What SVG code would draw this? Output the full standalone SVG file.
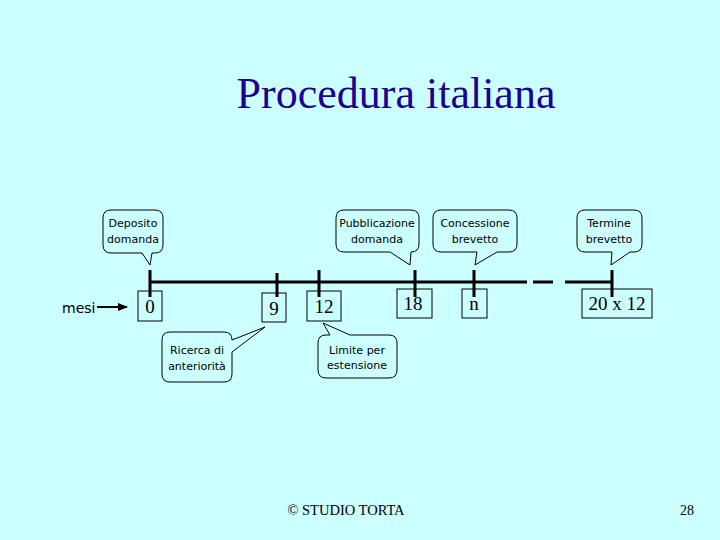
<svg xmlns="http://www.w3.org/2000/svg" width="720" height="540" viewBox="0 0 720 540">
<defs>
<marker id="ah" markerWidth="10" markerHeight="8" refX="9" refY="4" orient="auto" markerUnits="userSpaceOnUse">
<path d="M0,0 L10,4 L0,8 Z" fill="#000"/>
</marker>
<style>
.bg{fill:#ccffff}
.call{fill:#ccffff;stroke:#000;stroke-width:1}
.ct{font-family:"DejaVu Sans","Liberation Sans",sans-serif;font-size:11px;fill:#000;text-anchor:middle}
.num{font-family:"Liberation Serif",serif;font-size:19px;fill:#000;text-anchor:middle}
.box{fill:#ccffff;stroke:#000;stroke-width:1}
.tick{stroke:#000;stroke-width:3}
.tl{stroke:#000;stroke-width:3;fill:none}
</style>
</defs>
<rect class="bg" x="0" y="0" width="720" height="540"/>
<text x="396" y="108" font-family="Liberation Serif,serif" font-size="44" fill="#1e0090" text-anchor="middle">Procedura italiana</text>

<g id="connectors">
<line class="tl" x1="150" y1="282" x2="527" y2="282"/>
<line class="tl" x1="533" y1="282" x2="553" y2="282"/>
<line class="tl" x1="565" y1="282" x2="612" y2="282"/>
<line x1="97" y1="307" x2="127" y2="307" stroke="#000" stroke-width="2" marker-end="url(#ah)"/>
</g>

<g id="mesi"><text x="62" y="313" font-family="DejaVu Sans,Liberation Sans,sans-serif" font-size="14" fill="#000">mesi</text></g>

<g id="n0"><rect class="box" x="138" y="291" width="24" height="30"/><line class="tick" x1="150" y1="270" x2="150" y2="297"/><text class="num" x="150" y="313">0</text></g>
<g id="n9"><rect class="box" x="262" y="293" width="24" height="29"/><line class="tick" x1="277" y1="273" x2="277" y2="297"/><text class="num" x="274" y="315">9</text></g>
<g id="n12"><rect class="box" x="307" y="291" width="34" height="30"/><line class="tick" x1="319" y1="270" x2="319" y2="297"/><text class="num" x="324" y="313">12</text></g>
<g id="n18"><rect class="box" x="397" y="289" width="35" height="29"/><line class="tick" x1="415" y1="270" x2="415" y2="297"/><text class="num" x="413" y="310">18</text></g>
<g id="nn"><rect class="box" x="462" y="289" width="25" height="29"/><line class="tick" x1="474" y1="270" x2="474" y2="297"/><text class="num" x="474" y="310">n</text></g>
<g id="n20"><rect class="box" x="582" y="289" width="70" height="29"/><line class="tick" x1="612" y1="270" x2="612" y2="297"/><text class="num" x="617" y="310">20 x 12</text></g>

<g id="deposito">
<path class="call" d="M111,210 H155 Q163,210 163,218 V245 Q163,253 155,253 H152 L150,265 L142,253 H111 Q103,253 103,245 V218 Q103,210 111,210 Z"/>
<text class="ct" x="133" y="227">Deposito</text><text class="ct" x="133" y="243">domanda</text>
</g>
<g id="pubblicazione">
<path class="call" d="M344,210 H411 Q419,210 419,218 V244 Q419,252 411,252 L410,265 L390,252 H344 Q336,252 336,244 V218 Q336,210 344,210 Z"/>
<text class="ct" x="377" y="227">Pubblicazione</text><text class="ct" x="377" y="243">domanda</text>
</g>
<g id="concessione">
<path class="call" d="M441,210 H509 Q517,210 517,218 V244 Q517,252 509,252 H497 L475,265 L477,252 H441 Q433,252 433,244 V218 Q433,210 441,210 Z"/>
<text class="ct" x="475" y="227">Concessione</text><text class="ct" x="475" y="243">brevetto</text>
</g>
<g id="termine">
<path class="call" d="M585,210 H634 Q642,210 642,218 V244 Q642,252 634,252 H630 L611,265 L612,252 H585 Q577,252 577,244 V218 Q577,210 585,210 Z"/>
<text class="ct" x="609" y="227">Termine</text><text class="ct" x="609" y="243">brevetto</text>
</g>
<g id="ricerca">
<path class="call" d="M170,332 H224 Q232,332 232,340 L265,327 L232,352 V374 Q232,382 224,382 H170 Q162,382 162,374 V340 Q162,332 170,332 Z"/>
<text class="ct" x="197" y="354">Ricerca di</text><text class="ct" x="197" y="370">anteriorità</text>
</g>
<g id="limite">
<path class="call" d="M326,335 H330 L323,323 L350,335 H389 Q397,335 397,343 V370 Q397,378 389,378 H326 Q318,378 318,370 V343 Q318,335 326,335 Z"/>
<text class="ct" x="357" y="354">Limite per</text><text class="ct" x="357" y="369">estensione</text>
</g>

<text x="346" y="515" font-family="Liberation Serif,serif" font-size="14.5" fill="#000" text-anchor="middle">© STUDIO TORTA</text>
<text x="687" y="515" font-family="Liberation Serif,serif" font-size="14" fill="#000" text-anchor="middle">28</text>
</svg>
